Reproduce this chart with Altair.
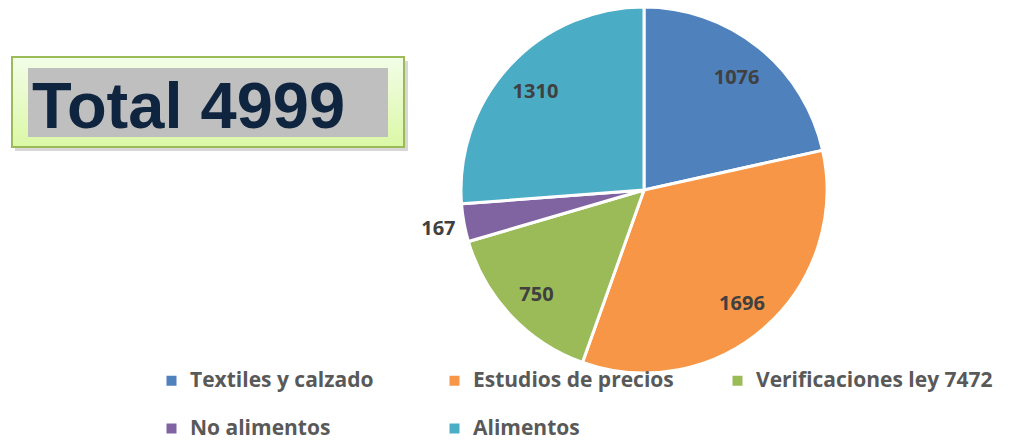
import altair as alt
import pandas as pd

categories = ["Textiles y calzado", "Estudios de precios", "Verificaciones ley 7472", "No alimentos", "Alimentos"]
values = [1076, 1696, 750, 167, 1310]
colors = ["#4f81bd", "#f79646", "#9bbb59", "#8064a2", "#4bacc6"]
total_text = "Total 4999"

df = pd.DataFrame({"category": categories, "value": values, "idx": list(range(len(categories)))})
one = pd.DataFrame({"t": [total_text]})

CX, CY, R = 636, 182, 183

base = alt.Chart(df)

pie = base.mark_arc(outerRadius=R, stroke="white", strokeWidth=3).encode(
    theta=alt.Theta("value:Q", stack=True),
    order=alt.Order("idx:Q"),
    color=alt.Color(
        "category:N",
        sort=categories,
        scale=alt.Scale(domain=categories, range=colors),
        legend=alt.Legend(
            title=None,
            orient="none",
            legendX=153,
            legendY=362,
            direction="horizontal",
            columns=3,
            gridAlign="all",
            columnPadding=17,
            rowPadding=26,
            symbolType="square",
            symbolSize=100,
            symbolStrokeWidth=0,
            labelFont="Open Sans",
            labelFontWeight="bold",
            labelFontSize=21,
            labelColor="#595959",
            labelOffset=8,
            labelLimit=400,
        ),
    ),
    x=alt.value(CX),
    y=alt.value(CY),
)

lab_base = base.transform_joinaggregate(
    total="sum(value)"
).transform_window(
    cum="sum(value)", sort=[alt.SortField("idx")], frame=[None, 0]
).transform_calculate(
    ang="2 * PI * (datum.cum - datum.value / 2) / datum.total",
    share="datum.value / datum.total",
)

def label_layer(cond, radius, dy):
    return lab_base.transform_filter(cond).mark_text(
        radius=radius, font="Open Sans", fontWeight="bold", fontSize=20,
        color="#404040", align="center", baseline="middle", dy=dy,
    ).encode(
        theta=alt.Theta("ang:Q", scale=None),
        text="value:Q",
        x=alt.value(CX),
        y=alt.value(CY),
    )

labels_in = label_layer("datum.share >= 0.05", 148, 3)
labels_out = label_layer("datum.share < 0.05", 209, 1)

box_shadow = alt.Chart(one).mark_rect(color="#9a9a9a", opacity=0.4).encode(
    x=alt.value(7), x2=alt.value(400), y=alt.value(53), y2=alt.value(143)
)
box = alt.Chart(one).mark_rect(
    stroke="#9bbb59", strokeWidth=2,
    fill=alt.Gradient(
        gradient="linear",
        stops=[alt.GradientStop(color="#f3fde8", offset=0), alt.GradientStop(color="#dbf8a6", offset=1)],
        x1=0, x2=0, y1=0, y2=1,
    ),
).encode(x=alt.value(4), x2=alt.value(396), y=alt.value(49), y2=alt.value(139))
inner = alt.Chart(one).mark_rect(color="#bfbfbf").encode(
    x=alt.value(20), x2=alt.value(380), y=alt.value(60), y2=alt.value(129)
)
total = alt.Chart(one).mark_text(
    font="Liberation Sans", fontWeight="bold", fontSize=65, color="#0f243e",
    align="left", baseline="alphabetic",
).encode(text="t:N", x=alt.value(24), y=alt.value(120))

chart = alt.layer(box_shadow, box, inner, total, pie, labels_in, labels_out).resolve_scale(
    theta="independent"
).properties(
    width=997, height=434, autosize=alt.AutoSizeParams(type="none"), padding=0
).configure_view(stroke=None)

chart.save("out.html", embed_options={"renderer": "svg", "actions": False})
